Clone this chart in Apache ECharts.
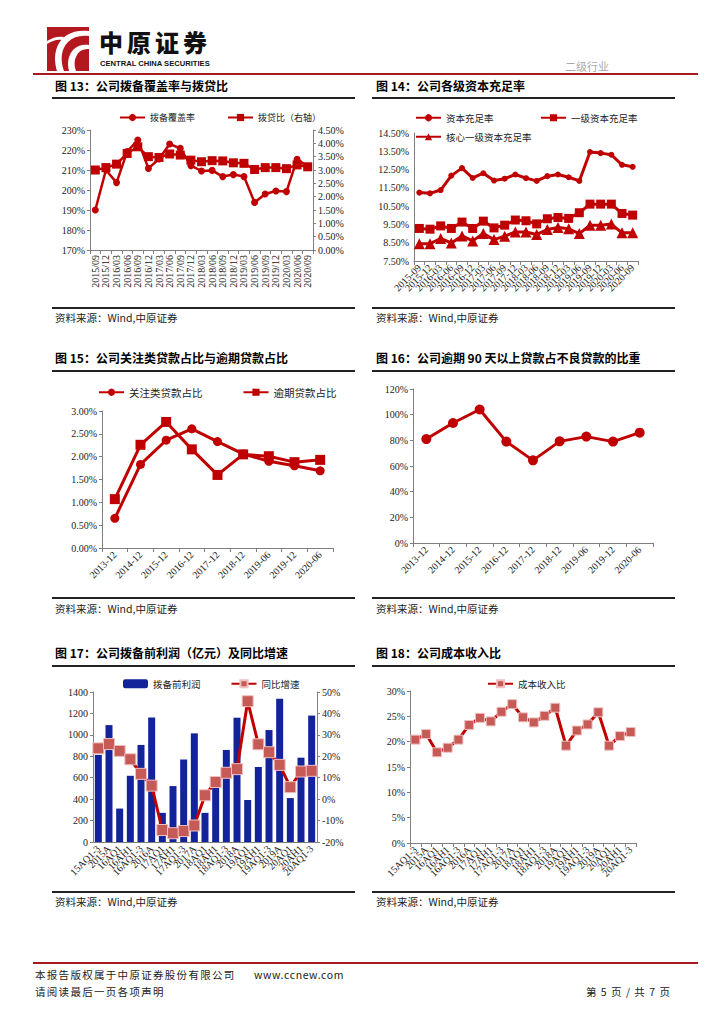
<!DOCTYPE html>
<html><head><meta charset="utf-8">
<script src="https://cdn.jsdelivr.net/npm/echarts@6/dist/echarts.min.js"></script>
<style>
body{margin:0;background:#fff;width:724px;height:1024px;position:relative;overflow:hidden;font-family:'Noto Sans CJK SC',sans-serif;color:#111;}
.abs{position:absolute;white-space:nowrap;}
.title{position:absolute;font-size:12px;font-weight:bold;color:#000;white-space:nowrap;line-height:14px;}
.hl{position:absolute;height:2px;background:#222;}
.src{position:absolute;font-size:10.5px;color:#222;white-space:nowrap;line-height:12px;}
.foot{position:absolute;font-size:10.5px;color:#222;white-space:nowrap;line-height:12px;letter-spacing:1.3px;}
.chart{position:absolute;width:303px;}
</style></head>
<body>
<!-- header -->
<svg class="abs" style="left:47px;top:27px" width="42" height="44" viewBox="0 0 42 44">
  <rect x="0" y="0" width="42" height="44" fill="#b2181e"/>
  <path d="M10 44 C6 30 8 16 20 8 C26 4 34 3 42 4 L42 9 C33 8 26 10 21 15 C14 22 13 33 17 44 Z" fill="#fff"/>
  <path d="M22 44 C20 36 21 28 27 22 C31 18 37 17 42 18 L42 22 C36 22 32 24 30 28 C27 33 27 38 29 44 Z" fill="#fff"/>
  <path d="M0 14 C6 10 12 9 17 10 L15 13 C10 12 5 14 0 17 Z" fill="#fff"/>
</svg>
<div class="abs" style="left:99px;top:30px;font-size:24px;font-weight:900;letter-spacing:4px;line-height:24px;color:#111;font-family:'Noto Sans CJK SC'">中原证券</div>
<div class="abs" style="left:100px;top:59px;font-size:7.6px;font-weight:bold;line-height:9px;color:#111;font-family:'Liberation Sans',Arial">CENTRAL CHINA SECURITIES</div>
<div class="abs" style="left:565px;top:60px;font-size:11px;color:#aaa;line-height:13px">二级行业</div>
<div class="abs" style="left:33px;top:73px;width:665px;height:2px;background:#a8191f"></div>

<!-- row 1 -->
<div class="title" style="left:55px;top:79px">图 13：公司拨备覆盖率与拨贷比</div>
<div class="title" style="left:376px;top:79px">图 14：公司各级资本充足率</div>
<div class="hl" style="left:52px;top:97px;width:303px"></div>
<div class="hl" style="left:372px;top:97px;width:303px"></div>
<div class="hl" style="left:52px;top:307px;width:303px"></div>
<div class="hl" style="left:372px;top:307px;width:303px"></div>
<div class="src" style="left:55px;top:312px">资料来源：Wind,中原证券</div>
<div class="src" style="left:376px;top:312px">资料来源：Wind,中原证券</div>

<!-- row 2 -->
<div class="title" style="left:55px;top:351px">图 15：公司关注类贷款占比与逾期贷款占比</div>
<div class="title" style="left:376px;top:351px">图 16：公司逾期 90 天以上贷款占不良贷款的比重</div>
<div class="hl" style="left:52px;top:370px;width:303px"></div>
<div class="hl" style="left:372px;top:370px;width:303px"></div>
<div class="hl" style="left:52px;top:597px;width:303px"></div>
<div class="hl" style="left:372px;top:597px;width:303px"></div>
<div class="src" style="left:55px;top:603px">资料来源：Wind,中原证券</div>
<div class="src" style="left:376px;top:603px">资料来源：Wind,中原证券</div>

<!-- row 3 -->
<div class="title" style="left:55px;top:646px">图 17：公司拨备前利润（亿元）及同比增速</div>
<div class="title" style="left:376px;top:646px">图 18：公司成本收入比</div>
<div class="hl" style="left:52px;top:665px;width:303px"></div>
<div class="hl" style="left:372px;top:665px;width:303px"></div>
<div class="hl" style="left:52px;top:891px;width:303px"></div>
<div class="hl" style="left:372px;top:891px;width:303px"></div>
<div class="src" style="left:55px;top:896px">资料来源：Wind,中原证券</div>
<div class="src" style="left:376px;top:896px">资料来源：Wind,中原证券</div>

<!-- footer -->
<div class="abs" style="left:33px;top:962px;width:665px;height:2px;background:#a8191f"></div>
<div class="foot" style="left:35px;top:969px">本报告版权属于中原证券股份有限公司</div>
<div class="foot" style="left:254px;top:969px;letter-spacing:0.6px">www.ccnew.com</div>
<div class="foot" style="left:35px;top:986px">请阅读最后一页各项声明</div>
<div class="foot" style="left:586px;top:986px;letter-spacing:1px">第 5 页 / 共 7 页</div>

<div id="c13" class="chart" style="left:52px;top:100px;height:205px"></div>
<div id="c14" class="chart" style="left:372px;top:100px;height:205px"></div>
<div id="c15" class="chart" style="left:52px;top:375px;height:222px"></div>
<div id="c16" class="chart" style="left:372px;top:375px;height:222px"></div>
<div id="c17" class="chart" style="left:52px;top:670px;height:221px"></div>
<div id="c18" class="chart" style="left:372px;top:670px;height:221px"></div>

<script>
// ---------- data ----------
const quarters13 = ['2015/09','2015/12','2016/03','2016/06','2016/09','2016/12','2017/03','2017/06','2017/09','2017/12','2018/03','2018/06','2018/09','2018/12','2019/03','2019/06','2019/09','2019/12','2020/03','2020/06','2020/09'];
const coverageRatio = [190.0,210.0,203.7,219.2,225.0,210.8,215.5,223.0,220.8,212.2,209.5,209.8,206.7,207.7,206.7,193.8,198.0,199.5,199.2,215.3,211.8];
const provisionLoanRatio = [3.00,3.09,3.22,3.62,3.87,3.50,3.47,3.60,3.56,3.37,3.31,3.35,3.34,3.27,3.25,3.02,3.09,3.09,3.05,3.19,3.12];

const quarters14 = ['2015-09','2015-12','2016-03','2016-06','2016-09','2016-12','2017-03','2017-06','2017-09','2017-12','2018-03','2018-06','2018-09','2018-12','2019-03','2019-06','2019-09','2019-12','2020-03','2020-06','2020-09'];
const capitalAdequacy = [11.24,11.20,11.38,12.17,12.58,12.04,12.30,11.90,12.00,12.23,12.03,11.88,12.14,12.23,12.08,11.88,13.46,13.40,13.31,12.76,12.65];
const tier1Adequacy = [9.28,9.24,9.42,9.28,9.63,9.28,9.68,9.31,9.46,9.74,9.70,9.53,9.81,9.88,9.83,10.14,10.61,10.61,10.61,10.10,10.01];
const coreTier1Adequacy = [8.45,8.45,8.73,8.49,8.87,8.60,9.00,8.67,8.86,9.09,9.09,8.95,9.22,9.33,9.26,9.00,9.46,9.46,9.52,9.04,9.04];

const periods15 = ['2013-12','2014-12','2015-12','2016-12','2017-12','2018-12','2019-06','2019-12','2020-06'];
const attentionLoanShare = [0.65,1.83,2.36,2.61,2.33,2.06,1.90,1.80,1.69];
const overdueLoanShare = [1.07,2.26,2.76,2.16,1.60,2.05,2.01,1.88,1.93];

const overdue90ToNpl = [81.0,93.5,104.0,79.0,64.4,79.2,82.9,79.0,86.0];

const periods17 = ['15AQ1-3','2015A','16AQ1','16AH1','16AQ1-3','2016A','17AQ1','17AH1','17AQ1-3','2017A','18AQ1','18AH1','18AQ1-3','2018A','19AQ1','19AH1','19AQ1-3','2019A','20AQ1','20AH1','20AQ1-3'];
const preProvisionProfit = [813,1091,312,618,906,1162,272,522,770,1014,272,560,859,1160,392,700,1045,1337,410,787,1180];
const preProvisionYoY = [23.7,25.7,22.5,18.6,11.8,6.3,-14.4,-15.9,-14.9,-12.3,1.8,8.0,12.3,14.0,45.7,25.6,21.9,16.0,5.6,12.9,13.2];

const costIncomeRatio = [20.4,21.5,17.9,18.8,20.4,23.3,24.7,24.0,25.9,27.4,24.8,23.8,25.1,26.7,19.2,22.2,23.4,25.8,19.2,21.1,21.9];

// ---------- styles ----------
const RED = '#c00000';
const AX = '#7f7f7f';
const NUMFONT = "'Liberation Serif','Noto Sans CJK SC',serif";
const CJK = "'Noto Sans CJK SC',sans-serif";
const lab = (extra) => Object.assign({color:'#222', fontFamily:NUMFONT, fontSize:10}, extra||{});
const axLine = {show:true, lineStyle:{color:AX, width:1}};
const axTick = {show:true, length:3, lineStyle:{color:AX}};
function grid(l,r,t,b){return {left:l,right:r,top:t,bottom:b,containLabel:false,outerBoundsMode:'none'};}
function catAxis(data, rot, extra){
  return Object.assign({type:'category', data:data, boundaryGap:true,
    axisLine:axLine, axisTick:{show:true,length:4,alignWithLabel:false,interval:0,lineStyle:{color:AX}},
    axisLabel:lab({rotate:rot, interval:0, margin:5}), splitLine:{show:false}}, extra||{});
}
function valAxis(min,max,iv,fmt,extra){
  return Object.assign({type:'value', min:min, max:max, interval:iv,
    axisLine:axLine, axisTick:axTick, splitLine:{show:false},
    axisLabel:lab({formatter:fmt, margin:5})}, extra||{});
}
function lineSeries(name,data,symbol,size,extra){
  return Object.assign({name:name,type:'line',data:data,symbol:symbol,symbolSize:size,
    lineStyle:{color:RED,width:3}, itemStyle:{color:RED}, emphasis:{disabled:true}, animation:false}, extra||{});
}
function legend(l,t,names,fs,extra){
  return Object.assign({left:l,top:t,data:names,itemWidth:25,itemHeight:9,itemGap:28,
    textStyle:{fontFamily:CJK,fontSize:fs,color:'#222'}, selectedMode:false}, extra||{});
}
function mk(id){return echarts.init(document.getElementById(id),null,{renderer:'svg'});}

// ---------- chart 13 ----------
mk('c13').setOption({
  animation:false,
  legend:legend(62,8,['拨备覆盖率','拨贷比（右轴）'],9,{itemGap:32}),
  grid:grid(38,42,30,55),
  xAxis:catAxis(quarters13,90),
  yAxis:[valAxis(170,230,10,v=>v+'%'), valAxis(0,4.5,0.5,v=>v.toFixed(2)+'%',{position:'right'})],
  series:[
    lineSeries('拨备覆盖率',coverageRatio,'circle',7,{lineStyle:{color:RED,width:2.5}}),
    lineSeries('拨贷比（右轴）',provisionLoanRatio,'rect',9,{yAxisIndex:1,lineStyle:{color:RED,width:2.5}})
  ]
});

// ---------- chart 14 ----------
mk('c14').setOption({
  animation:false,
  legend:[
    legend(38,8,['资本充足率'],9.5),
    legend(163,8,['一级资本充足率'],9.5),
    legend(38,27,['核心一级资本充足率'],9.5)
  ],
  grid:grid(42,37,33,44),
  xAxis:catAxis(quarters14,45),
  yAxis:valAxis(7.5,14.5,0.5,v=>(Math.abs(v-Math.floor(v)-0.5)<1e-6)?v.toFixed(2)+'%':'',{axisTick:{show:false}}),
  series:[
    lineSeries('资本充足率',capitalAdequacy,'circle',6),
    lineSeries('一级资本充足率',tier1Adequacy,'rect',9),
    lineSeries('核心一级资本充足率',coreTier1Adequacy,'triangle',11)
  ]
});

// ---------- chart 15 ----------
mk('c15').setOption({
  animation:false,
  legend:legend(41,7,['关注类贷款占比','逾期贷款占比'],10.5,{itemGap:40}),
  grid:grid(50,22,36,49),
  xAxis:catAxis(periods15,45),
  yAxis:valAxis(0,3,0.5,v=>v.toFixed(2)+'%'),
  series:[
    lineSeries('关注类贷款占比',attentionLoanShare,'circle',9),
    lineSeries('逾期贷款占比',overdueLoanShare,'rect',10)
  ]
});

// ---------- chart 16 ----------
mk('c16').setOption({
  animation:false,
  grid:grid(41,22,14,54),
  xAxis:catAxis(periods15,45),
  yAxis:valAxis(0,120,20,v=>v+'%'),
  series:[ lineSeries('逾期90天以上贷款占不良贷款比重',overdue90ToNpl,'circle',10) ]
});

// ---------- chart 17 ----------
mk('c17').setOption({
  animation:false,
  legend:legend(66,4,['拨备前利润','同比增速'],9.5,{itemGap:30}),
  grid:grid(41,38,22,49),
  xAxis:catAxis(periods17,45,{axisTick:{show:false}}),
  yAxis:[valAxis(0,1400,200,v=>v), valAxis(-20,50,10,v=>v+'%',{position:'right'})],
  series:[
    {name:'拨备前利润',type:'bar',data:preProvisionProfit,barWidth:7,itemStyle:{color:'#13239a'},animation:false,emphasis:{disabled:true}},
    lineSeries('同比增速',preProvisionYoY,'rect',11,{yAxisIndex:1,itemStyle:{color:'#c55a57',borderColor:'#f0c0c0',borderWidth:1}})
  ]
});

// ---------- chart 18 ----------
mk('c18').setOption({
  animation:false,
  legend:legend(110,4,['成本收入比'],9.5),
  grid:grid(38,39,21,48),
  xAxis:catAxis(periods17,45),
  yAxis:valAxis(0,30,5,v=>v+'%'),
  series:[ lineSeries('成本收入比',costIncomeRatio,'rect',9,{itemStyle:{color:'#c55a57',borderColor:'#f0c0c0',borderWidth:1}}) ]
});
</script>
</body></html>
